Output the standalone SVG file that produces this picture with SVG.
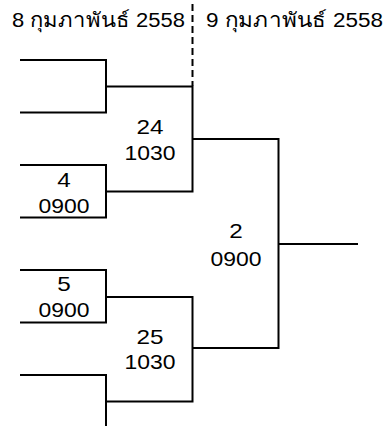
<svg xmlns="http://www.w3.org/2000/svg" width="388" height="426" viewBox="0 0 388 426">
<style>
.ln{stroke:#000;stroke-width:2;fill:none}
.dash{stroke:#000;stroke-width:2;fill:none;stroke-dasharray:7 4}
text{font-family:"Liberation Sans","Noto Sans",Arial,sans-serif;font-size:21px;fill:#000;text-anchor:middle}
.hd{font-size:20.5px;text-anchor:start}
</style>
<rect width="388" height="426" fill="#fff"/>
<g id="header">
<text class="hd" x="12" y="26.5" textLength="173" lengthAdjust="spacingAndGlyphs">8 กุมภาพันธ์ 2558</text>
<text class="hd" x="206" y="26.5" textLength="177" lengthAdjust="spacingAndGlyphs">9 กุมภาพันธ์ 2558</text>
<line class="dash" x1="192.5" y1="4" x2="192.5" y2="86"/>
</g>
<g id="connectors">
<path class="ln" d="M20 60H106V112.5H20"/>
<path class="ln" d="M106 86.5H192.5V191.5H106"/>
<path class="ln" d="M20 165H106V217.5H20"/>
<path class="ln" d="M192.5 139H278.5V348H192.5"/>
<path class="ln" d="M278.5 244H358"/>
<path class="ln" d="M20 270H106V322.5H20"/>
<path class="ln" d="M106 297H192.5V401.5H106"/>
<path class="ln" d="M20 375H106V426"/>
</g>
<g id="m24"><text x="150" y="134" textLength="27" lengthAdjust="spacingAndGlyphs">24</text><text x="150" y="160" textLength="51" lengthAdjust="spacingAndGlyphs">1030</text></g>
<g id="m4"><text x="64" y="186.5" textLength="13.5" lengthAdjust="spacingAndGlyphs">4</text><text x="64" y="212.5" textLength="51" lengthAdjust="spacingAndGlyphs">0900</text></g>
<g id="m2"><text x="236" y="238" textLength="13.5" lengthAdjust="spacingAndGlyphs">2</text><text x="236" y="265.5" textLength="51" lengthAdjust="spacingAndGlyphs">0900</text></g>
<g id="m5"><text x="64" y="291" textLength="13.5" lengthAdjust="spacingAndGlyphs">5</text><text x="64" y="317" textLength="51" lengthAdjust="spacingAndGlyphs">0900</text></g>
<g id="m25"><text x="150" y="344" textLength="27" lengthAdjust="spacingAndGlyphs">25</text><text x="150" y="369" textLength="51" lengthAdjust="spacingAndGlyphs">1030</text></g>
</svg>
